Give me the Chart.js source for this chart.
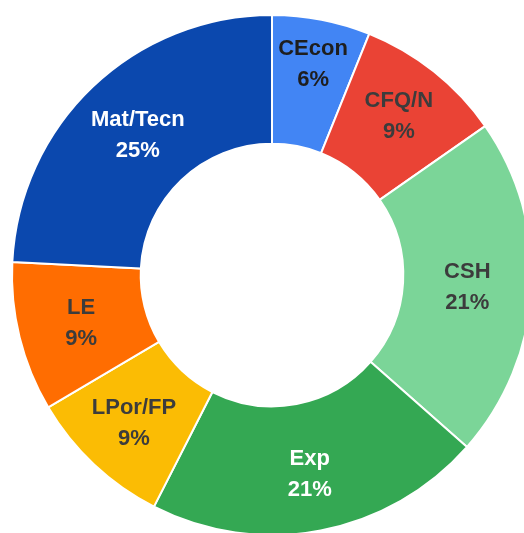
<!DOCTYPE html>
<html>
<head>
<meta charset="utf-8">
<script src="https://cdn.jsdelivr.net/npm/chart.js@4/dist/chart.umd.min.js"></script>
<style>
  html, body { margin: 0; padding: 0; background: #fff; overflow: hidden; width: 524px; height: 533px; }
  #wrap { position: absolute; left: 0; top: 0; }
</style>
</head>
<body>
<div id="wrap"><canvas id="pie" width="544" height="548"></canvas></div>
<script>
const areas = ['CEcon', 'CFQ/N', 'CSH', 'Exp', 'LPor/FP', 'LE', 'Mat/Tecn'];
// slice sizes
const shares = [6.1, 9.2, 21.2, 21.0, 9.0, 9.3, 24.2];
// percentages as printed on the slices
const shareLabels = ['6%', '9%', '21%', '21%', '9%', '9%', '25%'];
const sliceColors = ['#4285F4', '#EA4335', '#7BD598', '#34A853', '#FBBC04', '#FF6D01', '#0B48AE'];
const textColors = ['#1e1e1e', '#3c3c3c', '#3c3c3c', '#fff', '#3c3c3c', '#3c3c3c', '#fff'];
// push labels of the narrow slices a bit outwards
const labelShift = [20, 8, 0, 6, 6, 1, -1];

const sliceLabels = {
  id: 'sliceLabels',
  afterDatasetsDraw(chart) {
    const ctx = chart.ctx;
    const meta = chart.getDatasetMeta(0);
    ctx.save();
    ctx.font = 'bold 22px "Liberation Sans", Arial, sans-serif';
    ctx.textAlign = 'center';
    ctx.textBaseline = 'middle';
    meta.data.forEach((arc, i) => {
      const p = arc.getProps(['x', 'y', 'startAngle', 'endAngle', 'innerRadius', 'outerRadius'], true);
      const mid = (p.startAngle + p.endAngle) / 2;
      const r = (p.innerRadius + p.outerRadius) / 2 + labelShift[i];
      const x = p.x + Math.cos(mid) * r;
      const y = p.y + Math.sin(mid) * r + 1;
      ctx.fillStyle = textColors[i];
      ctx.fillText(areas[i], x, y - 15.5);
      ctx.fillText(shareLabels[i], x, y + 15.5);
    });
    ctx.restore();
  }
};

new Chart(document.getElementById('pie'), {
  type: 'doughnut',
  data: {
    labels: areas,
    datasets: [{
      data: shares,
      backgroundColor: sliceColors,
      borderColor: '#fff',
      borderWidth: 2
    }]
  },
  options: {
    responsive: false,
    animation: false,
    devicePixelRatio: 1,
    cutout: '50.5%',
    layout: { padding: { left: 11, right: 11, top: 14, bottom: 12 } },
    plugins: {
      legend: { display: false },
      tooltip: { enabled: false }
    }
  },
  plugins: [sliceLabels]
});
</script>
</body>
</html>
